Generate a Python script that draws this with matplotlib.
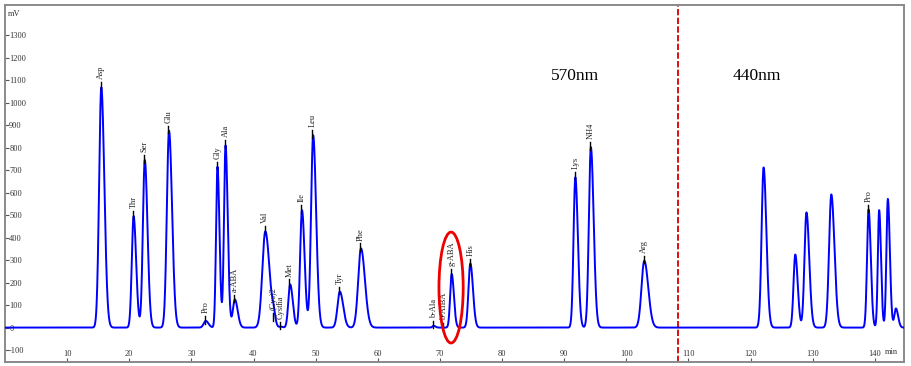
import numpy as np
import matplotlib
matplotlib.use("Agg")
import matplotlib.pyplot as plt
from matplotlib.patches import Ellipse

plt.rcParams['font.family'] = ['Liberation Serif', 'DejaVu Serif']
plt.rcParams['axes.unicode_minus'] = False

# ---- data ----
peak_names = ['Asp', 'Thr', 'Ser', 'Glu', 'Pro', 'Gly', 'Ala', 'a-ABA', 'Val',
              '(Cys)2', 'Cystha', 'Met', 'Ile', 'Leu', 'Tyr', 'Phe', 'b-Ala',
              'b-AIBA', 'g-ABA', 'His', 'Lys', 'NH4', 'Arg',
              '', '', '', '', 'Pro', '', '', '']
peak_times = [15.5, 20.7, 22.5, 26.4, 32.3, 34.2, 35.5, 37.0, 41.9,
              43.2, 44.4, 45.9, 47.8, 49.6, 53.9, 57.3, 69.0,
              70.6, 71.9, 74.9, 91.8, 94.3, 102.9,
              122.1, 127.2, 129.0, 133.0, 139.0, 140.7, 142.1, 143.4]
peak_heights = [1068, 495, 745, 875, 30, 715, 810, 125, 428,
                42, 4, 192, 522, 855, 160, 352, 8,
                0, 238, 285, 668, 802, 297,
                712, 325, 512, 592, 525, 522, 572, 85]
peak_sigmas = [0.35, 0.29, 0.31, 0.35, 0.32, 0.23, 0.25, 0.32, 0.48,
               0.21, 0.2, 0.3, 0.3, 0.34, 0.38, 0.45, 0.2,
               0.2, 0.25, 0.3, 0.29, 0.32, 0.45,
               0.32, 0.28, 0.32, 0.36, 0.25, 0.21, 0.23, 0.25]

y_ticks = [-100, 0, 100, 200, 300, 400, 500, 600, 700, 800, 900, 1000, 1100, 1200, 1300]
x_ticks = [10, 20, 30, 40, 50, 60, 70, 80, 90, 100, 110, 120, 130, 140]

split_time = 108.3
region_labels = ['570nm', '440nm']
region_label_x = [91.7, 121.0]
region_label_y = 1120
ellipse_center = (71.8, 178)
ellipse_size = (3.9, 493)

# ---- build trace ----
t = np.linspace(0, 145, 6000)
signal = np.zeros_like(t)
for tr, h, s in zip(peak_times, peak_heights, peak_sigmas):
    sig = np.where(t < tr, s, s * 1.4)
    signal += h * np.exp(-0.5 * ((t - tr) / sig) ** 2)

fig = plt.figure(figsize=(9.11, 3.66), dpi=100)
ax = fig.add_axes([5 / 911, 4 / 366, 899 / 911, 357 / 366])
ax.set_xlim(0, 144.7)
ax.set_ylim(-153, 1434)

ax.plot(t, signal, color='#0000ff', lw=1.4, zorder=3)

# peak apex markers and labels
for name, tr, h in zip(peak_names, peak_times, peak_heights):
    if not name:
        continue
    ax.plot([tr - 0.12, tr - 0.12], [h - 12, h + 22], color='black', lw=1.0, zorder=4)
    ax.text(tr, h + 35, name, rotation=90, ha='center', va='bottom',
            fontsize=6, color='#222222', zorder=5)

ax.axvline(split_time, color='#d40000', lw=1.3, ls=(0, (3.5, 1.3)), zorder=2)
ax.add_patch(Ellipse(ellipse_center, ellipse_size[0], ellipse_size[1],
                     fill=False, ec='#ee0000', lw=2.0, zorder=6))
for lab, xx in zip(region_labels, region_label_x):
    ax.text(xx, region_label_y, lab, ha='center', va='center', fontsize=12.5, color='black')

# axes styling
for sp in ax.spines.values():
    sp.set_color('#8a8a8a')
    sp.set_linewidth(1.4)

ax.set_yticks(y_ticks)
ax.set_xticks(x_ticks)
ax.tick_params(axis='y', direction='in', length=3, width=0.8, color='#555555',
               pad=-3, labelsize=6, labelcolor='#333333')
ax.tick_params(axis='x', direction='in', length=3, width=0.8, color='#555555',
               pad=-3, labelsize=6, labelcolor='#333333')
for lbl in ax.get_yticklabels():
    lbl.set_horizontalalignment('left')
for lbl in ax.get_xticklabels():
    lbl.set_verticalalignment('bottom')

ax.text(3 / 899, 1 - 9 / 357, 'mV', transform=ax.transAxes, fontsize=6,
        ha='left', va='center', color='#333333')
ax.text(1 - 6 / 899, 10 / 357, 'min', transform=ax.transAxes, fontsize=6,
        ha='right', va='center', color='#333333')

fig.savefig('out.png', dpi=100)
